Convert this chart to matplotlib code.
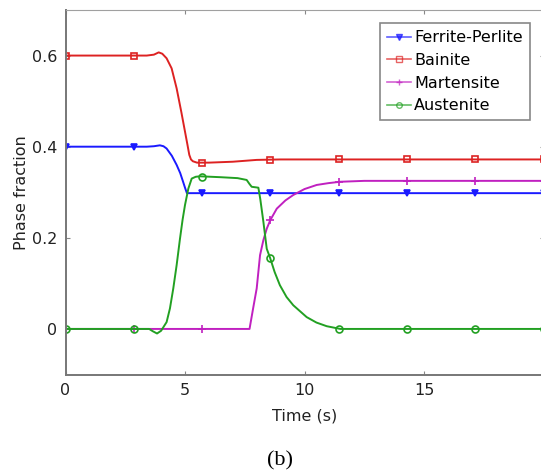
import matplotlib
matplotlib.use("Agg")
import matplotlib.pyplot as plt
from matplotlib.lines import Line2D

# phase fractions vs time
t_fp = [0, 3.4, 3.7, 3.95, 4.1, 4.23, 4.45, 4.65, 4.8, 4.92, 5.0, 5.08, 5.2, 20]
y_fp = [0.4, 0.4, 0.401, 0.403, 0.401, 0.396, 0.38, 0.36, 0.342, 0.323, 0.31, 0.298, 0.298, 0.298]

t_ba = [0, 3.4, 3.7, 3.9, 4.05, 4.23, 4.44, 4.65, 4.85, 5.0, 5.1, 5.18, 5.25, 5.33, 5.5, 6.0, 7.0, 8.0, 9.0, 20]
y_ba = [0.6, 0.6, 0.602, 0.607, 0.604, 0.594, 0.572, 0.528, 0.475, 0.433, 0.405, 0.382, 0.372, 0.368, 0.365,
        0.365, 0.367, 0.371, 0.372, 0.372]

t_ma = [0, 7.7, 7.85, 8.0, 8.14, 8.28, 8.42, 8.57, 8.84, 9.2, 9.53, 10.0, 10.51, 11.0, 11.49, 12.5, 20]
y_ma = [0, 0, 0.045, 0.089, 0.162, 0.195, 0.22, 0.239, 0.264, 0.282, 0.294, 0.307, 0.316, 0.32, 0.323, 0.325, 0.325]

t_au = [0, 3.5, 3.65, 3.83, 4.0, 4.23, 4.37, 4.51, 4.65, 4.79, 4.9, 5.0, 5.14, 5.28, 5.45, 5.63, 6.5, 7.2,
        7.58, 7.7, 7.79, 8.07, 8.15, 8.28, 8.42, 8.56, 8.75, 8.97, 9.25, 9.53, 10.09, 10.5, 10.93, 11.5, 20]
y_au = [0, 0, -0.005, -0.01, -0.004, 0.015, 0.045, 0.089, 0.14, 0.198, 0.24, 0.272, 0.308, 0.33, 0.334, 0.335,
        0.333, 0.331, 0.327, 0.318, 0.312, 0.31, 0.285, 0.235, 0.176, 0.156, 0.125, 0.096, 0.07, 0.052, 0.026,
        0.014, 0.006, 0, 0]

# marker positions
t_mark = [0, 2.857, 5.714, 8.571, 11.429, 14.286, 17.143, 20]
m_fp = [0.4, 0.4, 0.298, 0.298, 0.298, 0.298, 0.298, 0.298]
m_ba = [0.6, 0.6, 0.365, 0.371, 0.372, 0.372, 0.372, 0.372]
m_ma = [0, 0, 0, 0.239, 0.323, 0.325, 0.325, 0.325]
m_au = [0, 0, 0.334, 0.156, 0, 0, 0, 0]

labels = ["Ferrite-Perlite", "Bainite", "Martensite", "Austenite"]
colors = ["#1a1aff", "#dd2222", "#c020c0", "#22a022"]

fig = plt.figure(figsize=(5.41, 4.72), dpi=100)
ax = fig.add_axes([65.5 / 541, 1 - 374.5 / 472, 478 / 541, 364.5 / 472])

series = [(t_fp, y_fp, m_fp, "v", True), (t_ba, y_ba, m_ba, "s", False),
          (t_ma, y_ma, m_ma, "+", False), (t_au, y_au, m_au, "o", False)]
handles = []
for (t, y, m, mk, filled), c, lab in zip(series, colors, labels):
    ax.plot(t, y, color=c, lw=1.4)
    ms = 6 if mk == "+" else 5
    ax.plot(t_mark, m, ls="none", marker=mk, ms=ms, mew=1.2, color=c,
            mfc=c if filled else "none")
    handles.append(Line2D([], [], color=c, lw=1.2, marker=mk, ms=ms - 1, mew=1.0,
                          mfc=c if filled else "none", alpha=0.7))

ax.set_xlim(0, 20)
ax.set_ylim(-0.1, 0.7)
ax.set_xticks([0, 5, 10, 15])
ax.set_yticks([0, 0.2, 0.4, 0.6])
ax.set_yticklabels(["0", "0.2", "0.4", "0.6"])
ax.tick_params(direction="in", length=3, labelsize=11.5, top=True, right=True,
               color="#888888", labelcolor="#222222", pad=6)
for s in ["left", "bottom"]:
    ax.spines[s].set_color("#777777")
    ax.spines[s].set_linewidth(1.4)
ax.spines["top"].set_color("#a0a0a0")
ax.spines["right"].set_visible(False)

ax.set_xlabel("Time (s)", fontsize=11.5, color="#222222", labelpad=8)
ax.set_ylabel("Phase fraction", fontsize=11.5, color="#222222", labelpad=2)

leg = ax.legend(handles, labels, loc="upper right", bbox_to_anchor=(0.972, 0.964),
                borderaxespad=0, fontsize=11.5, handlelength=1.5, handletextpad=0.2,
                labelspacing=0.48, borderpad=0.45, fancybox=False, framealpha=1)
leg.get_frame().set_edgecolor("#888888")
leg.get_frame().set_linewidth(1.2)

fig.text(280 / 541, 1 - 461 / 472, "(b)", fontsize=16, family="Liberation Serif",
         ha="center", va="center")

fig.savefig("out.png", dpi=100)
